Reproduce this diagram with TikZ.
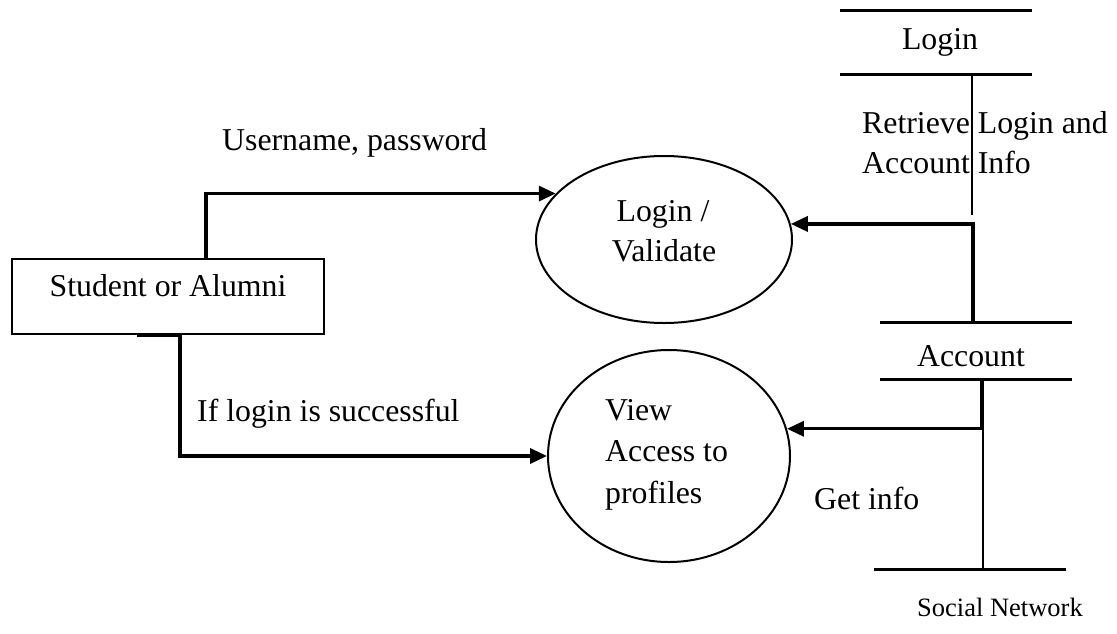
\documentclass[tikz,border=0pt]{standalone}
\usepackage{fontspec}
\setmainfont{Liberation Serif}
\usetikzlibrary{arrows.meta,shapes.geometric}
\begin{document}
\begin{tikzpicture}[x=1pt,y=-1pt,
  txt/.style={inner sep=0pt,font=\fontsize{31.8pt}{41pt}\selectfont},
  small/.style={inner sep=0pt,font=\fontsize{26.5pt}{32pt}\selectfont},
  proc/.style={draw,shape=ellipse,line width=2pt,inner sep=0pt},
  entity/.style={draw,rectangle,line width=2pt,inner sep=0pt,
    minimum width=312pt,minimum height=75pt},
  storebox/.style={rectangle,inner sep=0pt,minimum width=192pt},
  storeline/.style={line width=3pt},
  thinline/.style={line width=2.2pt},
  flow/.style={line width=3.4pt,-{Triangle[length=17pt,width=15pt]}}]
\useasboundingbox (0,0) rectangle (1117,633);

% external entity
\node[entity] (sa) at (168,296.5) {};
\node[txt,anchor=base] (satext) at (168,296) {Student or Alumni};

% processes
\node[proc,minimum width=256pt,minimum height=167pt] (e1) at (664,239.5) {};
\node[txt,anchor=base] (e1a) at (663,221) {Login /};
\node[txt,anchor=base] (e1b) at (664,261) {Validate};

\node[proc,minimum width=242pt,minimum height=212pt] (e2) at (669,456) {};
\node[txt,anchor=base west] (e2a) at (605,420) {View};
\node[txt,anchor=base west] (e2b) at (605,461) {Access to};
\node[txt,anchor=base west] (e2c) at (605,503) {profiles};

% data stores
\node[storebox,minimum height=63pt] (lg) at (936,42.5) {};
\draw[storeline] (lg.north west) -- (lg.north east);
\draw[storeline] (lg.south west) -- (lg.south east);
\node[txt,anchor=base] (lgtext) at (940,49) {Login};

\node[storebox,minimum height=56pt] (acc) at (976,351) {};
\draw[storeline] (acc.north west) -- (acc.north east);
\draw[storeline] (acc.south west) -- (acc.south east);
\node[txt,anchor=base] (acctext) at (971,366) {Account};

\coordinate (snw) at (874,569);
\coordinate (sne) at (1066,569);
\draw[storeline] (snw) -- (sne);
\node[small,anchor=base west] (sntext) at (917,616) {Social Network};

% data flows
\draw[flow] ([xshift=38pt]sa.north) |- (e1.157.6);
\node[txt,anchor=base west] (l1) at (222,150) {Username, password};

\draw[flow] ([xshift=-31pt]sa.south) -- ([xshift=12pt]sa.south) |- (e2.west);
\node[txt,anchor=base west] (l2) at (197,421) {If login is successful};

\coordinate (lgend) at (972,215);
\draw[thinline] ([xshift=36pt]lg.south) -- (lgend);
\draw[flow] ([xshift=-3pt]acc.north) |- (e1.7.5);
\node[txt,anchor=base west] (l3a) at (862,133) {Retrieve Login and};
\node[txt,anchor=base west] (l3b) at (862,173) {Account Info};

\draw[flow] ([xshift=6pt]acc.south) |- (e2.13);
\coordinate (jn) at (983,429);
\draw[thinline] (jn) -- (jn |- snw);
\node[txt,anchor=base west] (l4) at (814,509) {Get info};
\end{tikzpicture}
\end{document}
